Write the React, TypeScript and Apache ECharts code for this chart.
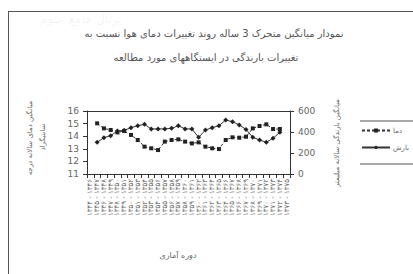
import React, { useEffect, useRef } from "react";
import * as echarts from "echarts";

const categories = [
  "۱۳۴۴ - ۱۳۴۶", "۱۳۴۵ - ۱۳۴۷", "۱۳۴۶ - ۱۳۴۸", "۱۳۴۷ - ۱۳۴۹", "۱۳۴۸ - ۱۳۵۰", "۱۳۴۹ - ۱۳۵۱",
  "۱۳۵۰ - ۱۳۵۲", "۱۳۵۱ - ۱۳۵۳", "۱۳۵۲ - ۱۳۵۴", "۱۳۵۳ - ۱۳۵۵", "۱۳۵۴ - ۱۳۵۶", "۱۳۵۵ - ۱۳۵۷",
  "۱۳۵۶ - ۱۳۵۸", "۱۳۵۷ - ۱۳۵۹", "۱۳۵۸ - ۱۳۶۰", "۱۳۵۹ - ۱۳۶۱", "۱۳۶۰ - ۱۳۶۲", "۱۳۶۱ - ۱۳۶۳",
  "۱۳۶۲ - ۱۳۶۴", "۱۳۶۳ - ۱۳۶۵", "۱۳۶۴ - ۱۳۶۶", "۱۳۶۵ - ۱۳۶۷", "۱۳۶۶ - ۱۳۶۸", "۱۳۶۷ - ۱۳۶۹",
  "۱۳۶۸ - ۱۳۷۰", "۱۳۶۹ - ۱۳۷۱", "۱۳۷۰ - ۱۳۷۲", "۱۳۷۱ - ۱۳۷۳", "۱۳۷۲ - ۱۳۷۴", "۱۳۷۳ - ۱۳۷۵",
];

const temperature = [
  null, 15.02, 14.62, 14.49, 14.3, 14.41, 14.1, 13.7, 13.17, 13.04, 12.9, 13.57, 13.7, 13.75,
  13.57, 13.43, 13.51, 13.17, 13.04, 12.98, 13.7, 13.91, 13.88, 13.96, 14.62, 14.81, 14.94,
  14.57, 14.57, null,
];

const precipitation = [
  null, 302, 346, 365, 410, 416, 441, 460, 473, 429, 429, 429, 435, 460, 429, 429, 349, 419,
  441, 460, 514, 498, 467, 425, 349, 324, 302, 340, 397, null,
];

const leftTicks = { min: 11, max: 16, interval: 1 };
const rightTicks = { min: 0, max: 600, interval: 200 };

const titleLine1 = "نمودار میانگین متحرک 3 ساله روند تغییرات دمای هوا نسبت به";
const titleLine2 = "تغییرات بارندگی در ایستگاههای مورد مطالعه";
const leftAxisTitle1 = "میانگین دمای سالانه درجه";
const leftAxisTitle2 = "سانتیگراد";
const rightAxisTitle = "میانگین بارندگی سالانه میلیمتر";
const xAxisTitle = "دوره آماری";
const watermark = "پرتال جامع علوم";
const seriesNames = ["دما", "بارش"];

const FONT = "DejaVu Sans";
const TXT = "#666";
const LINE = "#333";

export default function App() {
  const ref = useRef<HTMLDivElement>(null);
  useEffect(() => {
    if (!ref.current) return;
    const chart = echarts.init(ref.current, null, { renderer: "svg" });
    chart.setOption({
      animation: false,
      backgroundColor: "#fff",
      textStyle: { fontFamily: FONT },
      grid: { left: 87, top: 111, width: 203, height: 63, containLabel: false },
      xAxis: {
        type: "category",
        data: categories,
        boundaryGap: true,
        axisLine: { show: true, lineStyle: { color: LINE, width: 1 } },
        axisTick: { show: true, interval: 0, length: 4, lineStyle: { color: LINE } },
        axisLabel: { interval: 0, rotate: 90, fontSize: 7, color: TXT, margin: 5, fontFamily: FONT },
        splitLine: { show: false },
      },
      yAxis: [
        {
          type: "value",
          min: leftTicks.min,
          max: leftTicks.max,
          interval: leftTicks.interval,
          position: "left",
          axisLine: { show: true, lineStyle: { color: LINE } },
          axisTick: { show: true, length: 4, lineStyle: { color: LINE } },
          axisLabel: { fontSize: 9, color: TXT, margin: 8, fontFamily: FONT },
          splitLine: { show: false },
        },
        {
          type: "value",
          min: rightTicks.min,
          max: rightTicks.max,
          interval: rightTicks.interval,
          position: "right",
          axisLine: { show: true, lineStyle: { color: LINE } },
          axisTick: { show: true, length: 4, lineStyle: { color: LINE } },
          axisLabel: { fontSize: 9, color: TXT, margin: 8, fontFamily: FONT },
          splitLine: { show: false },
        },
      ],
      legend: {
        orient: "vertical",
        left: 361,
        top: 127,
        itemGap: 10,
        itemWidth: 28,
        itemHeight: 5,
        padding: 0,
        textStyle: { fontSize: 7, color: TXT, fontFamily: FONT, padding: [0, 0, 0, -2] },
        data: seriesNames,
      },
      series: [
        {
          name: seriesNames[0],
          type: "line",
          yAxisIndex: 0,
          data: temperature,
          symbol: "rect",
          symbolSize: 4,
          showSymbol: true,
          connectNulls: false,
          lineStyle: { color: LINE, width: 1, type: [3, 2] },
          itemStyle: { color: "#222" },
        },
        {
          name: seriesNames[1],
          type: "line",
          yAxisIndex: 1,
          data: precipitation,
          symbol: "diamond",
          symbolSize: 5,
          showSymbol: true,
          lineStyle: { color: LINE, width: 1 },
          itemStyle: { color: "#222" },
        },
      ],
      graphic: [
        {
          type: "text",
          x: 40,
          y: 13,
          silent: true,
          style: { text: watermark, fontSize: 12, fill: "rgba(0,0,0,0.06)", fontFamily: FONT },
        },
        { type: "line", shape: { x1: 8, y1: 11.5, x2: 413, y2: 11.5 }, style: { stroke: "#555", lineWidth: 1 } },
        { type: "line", shape: { x1: 8.5, y1: 11, x2: 8.5, y2: 274 }, style: { stroke: "#555", lineWidth: 1 } },
        { type: "line", shape: { x1: 87, y1: 111.5, x2: 290, y2: 111.5 }, style: { stroke: LINE, lineWidth: 1 } },
        {
          type: "text",
          x: 214,
          y: 33,
          style: { text: titleLine1, fontSize: 10, fill: "#555", align: "center", verticalAlign: "middle", fontFamily: FONT },
        },
        {
          type: "text",
          x: 206,
          y: 57,
          style: { text: titleLine2, fontSize: 10, fill: "#555", align: "center", verticalAlign: "middle", fontFamily: FONT },
        },
        {
          type: "text",
          x: 30,
          y: 138,
          rotation: Math.PI / 2,
          style: { text: leftAxisTitle1, fontSize: 7, fill: TXT, align: "center", verticalAlign: "middle", fontFamily: FONT },
        },
        {
          type: "text",
          x: 43,
          y: 137,
          rotation: Math.PI / 2,
          style: { text: leftAxisTitle2, fontSize: 7, fill: TXT, align: "center", verticalAlign: "middle", fontFamily: FONT },
        },
        {
          type: "text",
          x: 337,
          y: 143,
          rotation: Math.PI / 2,
          style: { text: rightAxisTitle, fontSize: 7, fill: TXT, align: "center", verticalAlign: "middle", fontFamily: FONT },
        },
        {
          type: "text",
          x: 178,
          y: 255,
          style: { text: xAxisTitle, fontSize: 8, fill: TXT, align: "center", verticalAlign: "middle", fontFamily: FONT },
        },
        { type: "line", shape: { x1: 360, y1: 121, x2: 413, y2: 121 }, style: { stroke: "#555", lineWidth: 1 } },
        { type: "line", shape: { x1: 360, y1: 164, x2: 413, y2: 164 }, style: { stroke: "#555", lineWidth: 1 } },
      ],
    });
    return () => chart.dispose();
  }, []);
  return (
    <div
      ref={ref}
      style={{ position: "fixed", left: 0, top: 0, width: 413, height: 274, background: "#fff" }}
    />
  );
}
